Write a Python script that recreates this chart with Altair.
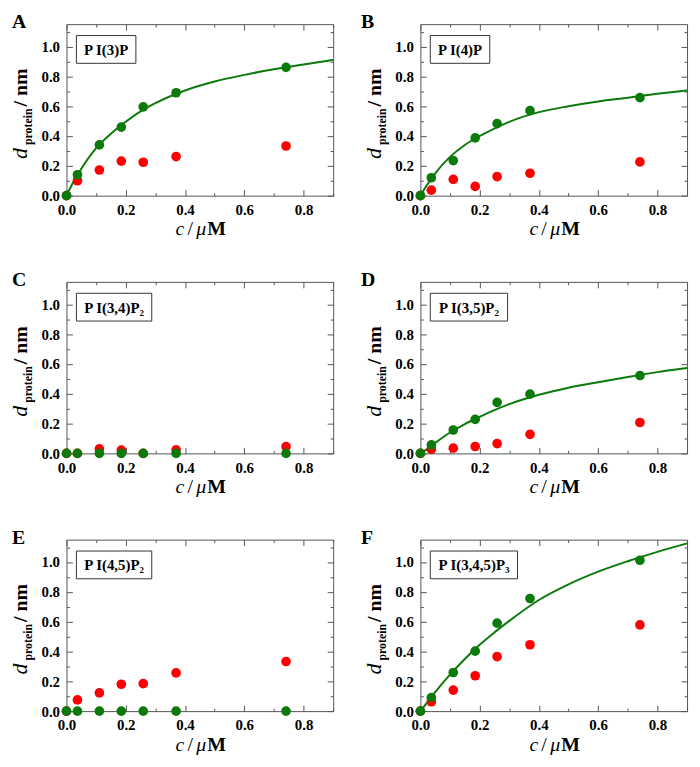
import altair as alt
import pandas as pd

# ---------------- data ----------------
conc = [0.0, 0.037, 0.111, 0.185, 0.259, 0.370, 0.741]

panel_ids = ["A", "B", "C", "D", "E", "F"]
panel_labels = ["P\u2009I(3)P", "P\u2009I(4)P", "P\u2009I(3,4)P\u2082",
                "P\u2009I(3,5)P\u2082", "P\u2009I(4,5)P\u2082", "P\u2009I(3,4,5)P\u2083"]

green_A = [0.0, 0.14, 0.34, 0.46, 0.595, 0.69, 0.86]
red_A = [0.0, 0.10, 0.172, 0.232, 0.224, 0.262, 0.333]
green_B = [0.0, 0.12, 0.235, 0.387, 0.483, 0.57, 0.657]
red_B = [0.0, 0.037, 0.109, 0.062, 0.128, 0.150, 0.226]
green_C = [0.0, 0.0, 0.0, 0.0, 0.0, 0.0, 0.0]
red_C = [0.0, 0.0, 0.03, 0.022, 0.0, 0.024, 0.045]
green_D = [0.0, 0.057, 0.157, 0.228, 0.342, 0.397, 0.522]
red_D = [0.0, 0.028, 0.035, 0.046, 0.066, 0.128, 0.207]
green_E = [0.0, 0.0, 0.0, 0.0, 0.0, 0.0, 0.0]
red_E = [0.0, 0.075, 0.122, 0.18, 0.184, 0.256, 0.333]
green_F = [0.0, 0.091, 0.259, 0.402, 0.59, 0.755, 1.012]
red_F = [0.0, 0.063, 0.141, 0.237, 0.366, 0.445, 0.578]

# fitted curves
curve_x = [0.0, 0.02, 0.05, 0.1, 0.15, 0.2, 0.25, 0.3, 0.4, 0.5, 0.6, 0.7, 0.8, 0.9]
curve_A = [0.0, 0.08, 0.18, 0.318, 0.415, 0.495, 0.565, 0.62, 0.705, 0.765, 0.81, 0.848, 0.88, 0.91]
curve_B = [0.0, 0.065, 0.15, 0.26, 0.34, 0.40, 0.45, 0.495, 0.56, 0.60, 0.632, 0.657, 0.683, 0.706]
curve_D = [0.0, 0.025, 0.07, 0.14, 0.197, 0.245, 0.29, 0.33, 0.393, 0.44, 0.477, 0.512, 0.545, 0.573]
curve_F = [0.0, 0.05, 0.128, 0.245, 0.35, 0.445, 0.528, 0.605, 0.745, 0.85, 0.935, 1.005, 1.068, 1.125]

greens = [green_A, green_B, green_C, green_D, green_E, green_F]
reds = [red_A, red_B, red_C, red_D, red_E, red_F]
curves = [curve_A, curve_B, None, curve_D, None, curve_F]

x_major = [0.0, 0.2, 0.4, 0.6, 0.8]
x_minor = [0.1, 0.3, 0.5, 0.7, 0.9]
y_major = [0.0, 0.2, 0.4, 0.6, 0.8, 1.0]
y_minor = [0.1, 0.3, 0.5, 0.7, 0.9, 1.1]

# ---------------- style ----------------
FONT = "Liberation Serif"
GRAY = "#555555"
GREEN = "#0b7a0b"
RED = "#ff0000"
W, H = 269, 173
box_w = [60, 60, 76, 78, 76, 88]
letter_x = [-55, -60, -55, -60, -55, -60]

xscale = alt.Scale(domain=[0, 0.9], nice=False, zero=False)
yscale = alt.Scale(domain=[0, 1.15], nice=False, zero=False)


def tick_axis(orient, values, size):
    return alt.Axis(orient=orient, values=values, labels=False, ticks=True,
                    tickSize=size, offset=-size, domain=False, grid=False,
                    title=None, tickColor=GRAY, tickWidth=1,
                    minExtent=0, maxExtent=0)


def label_axis(orient, values, pad):
    return alt.Axis(orient=orient, values=values, format=".1f", labels=True,
                    ticks=False, tickSize=0, domain=False, grid=False, title=None,
                    labelFont=FONT, labelFontWeight="bold", labelFontSize=15,
                    labelColor="black", labelPadding=pad, minExtent=0,
                    labelFlush=False, labelOverlap=False)


one = pd.DataFrame({"k": [0]})


def txt(text, x, y, size, weight="normal", style="normal", angle=0, align="left", color="black"):
    return alt.Chart(one).mark_text(
        text=text, font=FONT, fontSize=size, fontWeight=weight, fontStyle=style,
        angle=angle, align=align, baseline="alphabetic", color=color
    ).encode(x=alt.value(x), y=alt.value(y))


def panel(i):
    df = pd.DataFrame({"c": conc, "green": greens[i], "red": reds[i]})
    base = alt.Chart(df)
    layers = []
    # axis carriers (invisible)
    layers.append(base.mark_point(opacity=0).encode(
        x=alt.X("c:Q", scale=xscale, axis=label_axis("bottom", x_major, 7)),
        y=alt.Y("green:Q", scale=yscale, axis=label_axis("left", y_major, 7))))
    for xo, yo, vx, vy, s in [("bottom", "left", x_major, y_major, 6),
                              ("bottom", "left", x_minor, y_minor, 3),
                              ("top", "right", x_major, y_major, 6),
                              ("top", "right", x_minor, y_minor, 3)]:
        layers.append(base.mark_point(opacity=0).encode(
            x=alt.X("c:Q", scale=xscale, axis=tick_axis(xo, vx, s)),
            y=alt.Y("green:Q", scale=yscale, axis=tick_axis(yo, vy, s))))
    # curve
    if curves[i] is not None:
        cdf = pd.DataFrame({"c": curve_x, "fit": curves[i]})
        layers.append(alt.Chart(cdf).mark_line(color=GREEN, strokeWidth=2, interpolate="monotone").encode(
            x=alt.X("c:Q", scale=xscale, axis=None),
            y=alt.Y("fit:Q", scale=yscale, axis=None)))
    # points
    layers.append(base.mark_circle(size=95, color=RED, opacity=1).encode(
        x=alt.X("c:Q", scale=xscale, axis=None),
        y=alt.Y("red:Q", scale=yscale, axis=None)))
    layers.append(base.mark_circle(size=95, color=GREEN, opacity=1).encode(
        x=alt.X("c:Q", scale=xscale, axis=None),
        y=alt.Y("green:Q", scale=yscale, axis=None)))
    # label box
    layers.append(alt.Chart(one).mark_rect(fill="white", stroke="#333333", strokeWidth=1).encode(
        x=alt.value(10), x2=alt.value(10 + box_w[i]), y=alt.value(11.5), y2=alt.value(39.5)))
    layers.append(txt(panel_labels[i], 10 + box_w[i] / 2, 31, 15, weight="bold", align="center"))
    # panel letter
    layers.append(txt(panel_ids[i], letter_x[i], 4, 20, weight="bold"))
    # y title: d_protein / nm
    layers.append(txt("d", -40, 136, 22, style="italic", angle=270))
    layers.append(txt("protein", -35, 122, 12, weight="bold", angle=270))
    layers.append(txt("/ nm", -40, 83, 20, weight="bold", angle=270))
    # x title: c / μM
    ty = H + 40
    layers.append(txt("c", 110, ty, 20, style="italic"))
    layers.append(txt("/", 122, ty, 20))
    layers.append(txt("\u03bc", 131, ty, 20, style="italic"))
    layers.append(txt("M", 142, ty, 20, weight="bold"))
    return alt.layer(*layers).resolve_axis(x="independent", y="independent").properties(width=W, height=H)


chart = alt.concat(*[panel(i) for i in range(6)], columns=2,
                   spacing={"row": 87, "column": 88}, bounds="flush").properties(
    padding=0
).configure_view(stroke=GRAY, strokeWidth=1)

chart.save("out.html", embed_options={"renderer": "svg", "actions": False})
